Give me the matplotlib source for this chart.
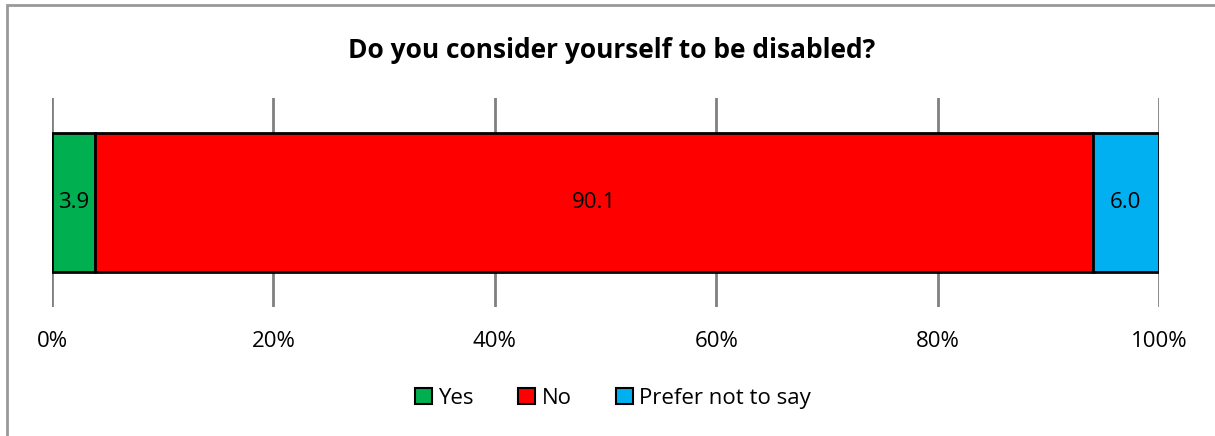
import numpy as np
from matplotlib import pyplot as plt
from matplotlib.patches import Patch, Rectangle

plt.rcParams['font.family'] = ['Open Sans', 'DejaVu Sans']

categories = ["Yes", "No", "Prefer not to say"]
values = [3.9, 90.1, 6.0]
colors = ["#00B050", "#FF0000", "#00B0F0"]
ticks = [0, 20, 40, 60, 80, 100]
tick_labels = ["0%", "20%", "40%", "60%", "80%", "100%"]

fig = plt.figure(figsize=(12.15, 4.36), dpi=100)
ax = fig.add_axes([52/1215, 1-307/436, (1159-52)/1215, (307-98)/436])

left = 0
for cat, v, c in zip(categories, values, colors):
    ax.barh(0, v, left=left, height=0.665, color=c, edgecolor='black', linewidth=2, zorder=3)
    ax.text(left + v/2, 0, f"{v:.1f}", ha='center', va='center', fontsize=16, zorder=4)
    left += v

ax.set_xlim(0, 100)
ax.set_ylim(-0.5, 0.5)
ax.set_xticks(ticks)
ax.set_xticklabels(tick_labels, fontsize=16)
ax.set_yticks([])
ax.tick_params(axis='x', length=0, pad=17)
ax.grid(axis='x', color='#808080', linewidth=2, zorder=0)
for s in ax.spines.values():
    s.set_visible(False)

fig.text(612/1215, 1-50/436, "Do you consider yourself to be disabled?", ha='center', va='center',
         fontsize=19, fontweight='bold')

handles = [Patch(facecolor=c, edgecolor='black', linewidth=1.5) for c in colors]
fig.legend(handles, categories, loc='center', bbox_to_anchor=(613/1215, 1-398/436), ncol=3,
           frameon=False, fontsize=16, handlelength=0.75, handleheight=0.75, handletextpad=0.3,
           columnspacing=2.0)

# outer chart border (cropped on the right and bottom)
fig.patches.append(Rectangle((7/1215, -0.1), 1.2, 1 - 5/436 + 0.1, transform=fig.transFigure,
                             fill=False, edgecolor='#999999', linewidth=2))

fig.savefig('out.png', dpi=100)
